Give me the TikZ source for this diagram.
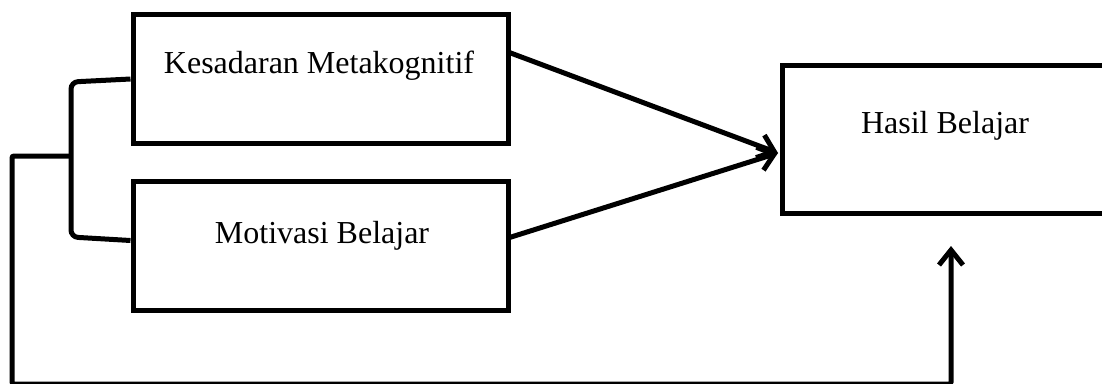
\documentclass[tikz,border=0pt]{standalone}
\usepackage{fontspec}
\setmainfont{Liberation Serif}
\usetikzlibrary{arrows.meta}
\begin{document}
\begin{tikzpicture}[x=1pt,y=-1pt,
  box/.style={draw=black,line width=5pt,minimum width=375pt,minimum height=129pt,inner sep=0pt},
  lbl/.style={font=\fontsize{32}{38}\selectfont,inner sep=0pt},
  conn/.style={line width=5pt},
  arr/.style={line width=5pt,-{Straight Barb[length=15pt,width=24pt,line width=5pt]}}]
\useasboundingbox (0,0) rectangle (1102,383);
\clip (0,0) rectangle (1102,383);
\node[box] (k) at (320.5,79) {};
\node[box] (m) at (320.5,245.5) {};
\node[box,minimum width=340pt,minimum height=148pt] (h) at (952,139) {};
\node[lbl] (kt) at (319,66) {Kesadaran Metakognitif};
\node[lbl] (mt) at (322,236) {Motivasi Belajar};
\node[lbl] (ht) at (945,126) {Hasil Belajar};
\coordinate (ks) at (508,52);
\coordinate (ms) at (508,238);
\coordinate (hin) at (778,153);
\coordinate (up) at (951,246);
\draw[arr] (ks) -- (hin);
\draw[arr] (ms) -- (hin);
\draw[conn,rounded corners=7pt] (k.west) -- (71,82) -- (71,237) -- ([yshift=5pt]m.west);
\draw[arr,rounded corners=2pt] (71,156) -- (12,156) -- (12,384) -- (951,384) -- (up);
\end{tikzpicture}
\end{document}
